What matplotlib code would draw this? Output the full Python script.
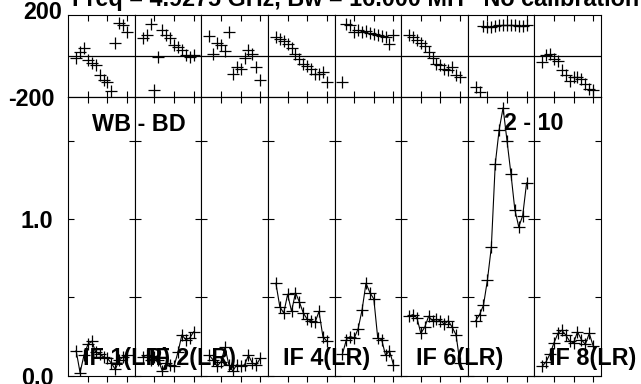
import matplotlib.pyplot as plt
from matplotlib.transforms import ScaledTranslation

plt.rcParams['font.family'] = ['Liberation Sans', 'DejaVu Sans']
plt.rcParams['font.weight'] = 'bold'

W, H = 641, 384
FS = 16.8

title = 'Freq = 4.9275 GHz, Bw = 16.000 MH   No calibration'
baseline_top = 'WB - BD'
baseline_bottom = '2 - 10'
if_labels = ['IF 1(LR)', 'IF 2(LR)', None, 'IF 4(LR)', None, 'IF 6(LR)', None, 'IF 8(LR)']

channels = [2, 3, 4, 5, 6, 7, 8, 9, 10, 11, 12, 13, 14, 15]

# phase (degrees) per IF
phase_if1 = [-10, 22, 38, -18, -35, -43, -91, -116, -124, -168, 63, 160, 152, 119]
phase_if2 = [87, 103, 157, -164, -2, 127, 103, 87, 54, 46, 30, 6, -2, 6]
phase_if3 = [98, 10, 63, 55, 25, 116, -88, -52, -64, -10, 30, 10, -51, -116]
phase_if4 = [93, 82, 72, 61, 40, 12, -12, -36, -48, -61, -85, -85, -77, -126]
phase_if5 = [-126, 158, 150, 118, 126, 118, 124, 114, 110, 105, 98, 93, 61, 102]
phase_if6 = [102, 93, 80, 62, 50, 20, -10, -36, -44, -61, -69, -53, -93, -101]
phase_if7 = [-150, -174, 147, 142, 142, 147, 150, 153, 153, 150, 150, 147, 147, 150]
phase_if8 = [-28, 4, 12, -12, -25, -69, -93, -122, -101, -101, -109, -134, -161, -166]

# amplitude per IF
amp_if1 = [0.16, 0.02, 0.13, 0.20, 0.22, 0.15, 0.14, 0.12, 0.11, 0.08, 0.04, 0.10, 0.12, 0.13]
amp_if2 = [0.12, 0.13, 0.10, 0.12, 0.10, 0.03, 0.08, 0.07, 0.06, 0.15, 0.26, 0.23, 0.24, 0.28]
amp_if3 = [0.13, 0.10, 0.06, 0.09, 0.18, 0.07, 0.03, 0.07, 0.06, 0.07, 0.13, 0.08, 0.07, 0.11]
amp_if4 = [0.59, 0.44, 0.40, 0.52, 0.41, 0.53, 0.47, 0.40, 0.36, 0.35, 0.34, 0.41, 0.25, 0.22]
amp_if5 = [0.14, 0.23, 0.25, 0.24, 0.30, 0.42, 0.59, 0.53, 0.49, 0.24, 0.23, 0.13, 0.16, 0.07]
amp_if6 = [0.38, 0.39, 0.37, 0.27, 0.31, 0.38, 0.35, 0.36, 0.35, 0.33, 0.35, 0.31, 0.26, 0.08]
amp_if7 = [0.35, 0.39, 0.45, 0.61, 0.82, 1.35, 1.57, 1.71, 1.50, 1.29, 1.06, 0.95, 1.02, 1.23]
amp_if8 = [0.06, 0.09, 0.14, 0.21, 0.27, 0.29, 0.26, 0.22, 0.21, 0.28, 0.23, 0.20, 0.27, 0.19]

phases = [phase_if1, phase_if2, phase_if3, phase_if4, phase_if5, phase_if6, phase_if7, phase_if8]
amps = [amp_if1, amp_if2, amp_if3, amp_if4, amp_if5, amp_if6, amp_if7, amp_if8]


def fx(px):
    return px / W


def fy(py):
    return 1 - py / H


fig = plt.figure(figsize=(W / 100, H / 100), dpi=100)

left, right = 68.3, 601.0
top, mid, bottom = 15.0, 97.3, 375.7
pw = (right - left) / 8

mk = dict(marker='+', markersize=9, markeredgewidth=0.9, color='black')

for i in range(8):
    x0 = left + i * pw
    ax_p = fig.add_axes([fx(x0), fy(mid), fx(pw), (mid - top) / H])
    ax_a = fig.add_axes([fx(x0), fy(bottom), fx(pw), (bottom - mid) / H])

    # phase panel
    ax_p.plot(channels, phases[i], linestyle='none', **mk)
    ax_p.axhline(0, color='black', linewidth=0.9)
    ax_p.set_xlim(0, 17)
    ax_p.set_ylim(-200, 200)
    ax_p.set_xticks([5, 10, 15])
    ax_p.set_xticklabels([])
    ax_p.tick_params(axis='x', direction='in', top=True, bottom=True, length=4.5, width=0.8)
    if i == 0:
        ax_p.set_yticks([200, -200])
        ax_p.set_yticklabels(['200', '-200'], fontsize=FS, fontweight='bold')
        ax_p.tick_params(axis='y', length=0, pad=9.6)
        lab = ax_p.get_yticklabels()[0]
        lab.set_transform(lab.get_transform() + ScaledTranslation(0.07, 0.05, fig.dpi_scale_trans))
    else:
        ax_p.set_yticks([])

    # amplitude panel
    ax_a.plot(channels, amps[i], linewidth=0.8, **mk)
    ax_a.set_xlim(0, 17)
    ax_a.set_ylim(0, (bottom - mid) / 156.7)
    ax_a.set_xticks([5, 10, 15])
    ax_a.set_xticklabels([])
    ax_a.tick_params(axis='x', direction='out', top=False, bottom=True, length=4.5, width=0.8)
    sec = ax_a.secondary_xaxis('top')
    sec.set_xticks([5, 10, 15])
    sec.tick_params(direction='in', length=4.5, width=0.8, labeltop=False)
    ax_a.set_yticks([0.0, 1.0])
    ax_a.set_yticks([0.5, 1.5], minor=True)
    ax_a.tick_params(axis='y', which='both', direction='in', left=True, right=True,
                     length=4.5, width=0.8, pad=10.8)
    if i == 0:
        ax_a.set_yticklabels(['0.0', '1.0'], fontsize=FS, fontweight='bold')
    else:
        ax_a.set_yticklabels([])

    for ax in (ax_p, ax_a):
        for s in ax.spines.values():
            s.set_linewidth(0.8)

fig.text(fx(72), fy(5.7), title, fontsize=FS, fontweight='bold', ha='left', va='baseline')
fig.text(fx(138.5), fy(130.7), baseline_top, fontsize=FS, fontweight='bold', ha='center', va='baseline')
fig.text(fx(534), fy(130), baseline_bottom, fontsize=FS, fontweight='bold', ha='center', va='baseline')
for i, lab in enumerate(if_labels):
    if lab:
        cx = left + (i + 1) * pw - 8.5
        fig.text(fx(cx), fy(364.5), lab, fontsize=FS, fontweight='bold', ha='center', va='baseline')

fig.savefig('out.png', dpi=100)
